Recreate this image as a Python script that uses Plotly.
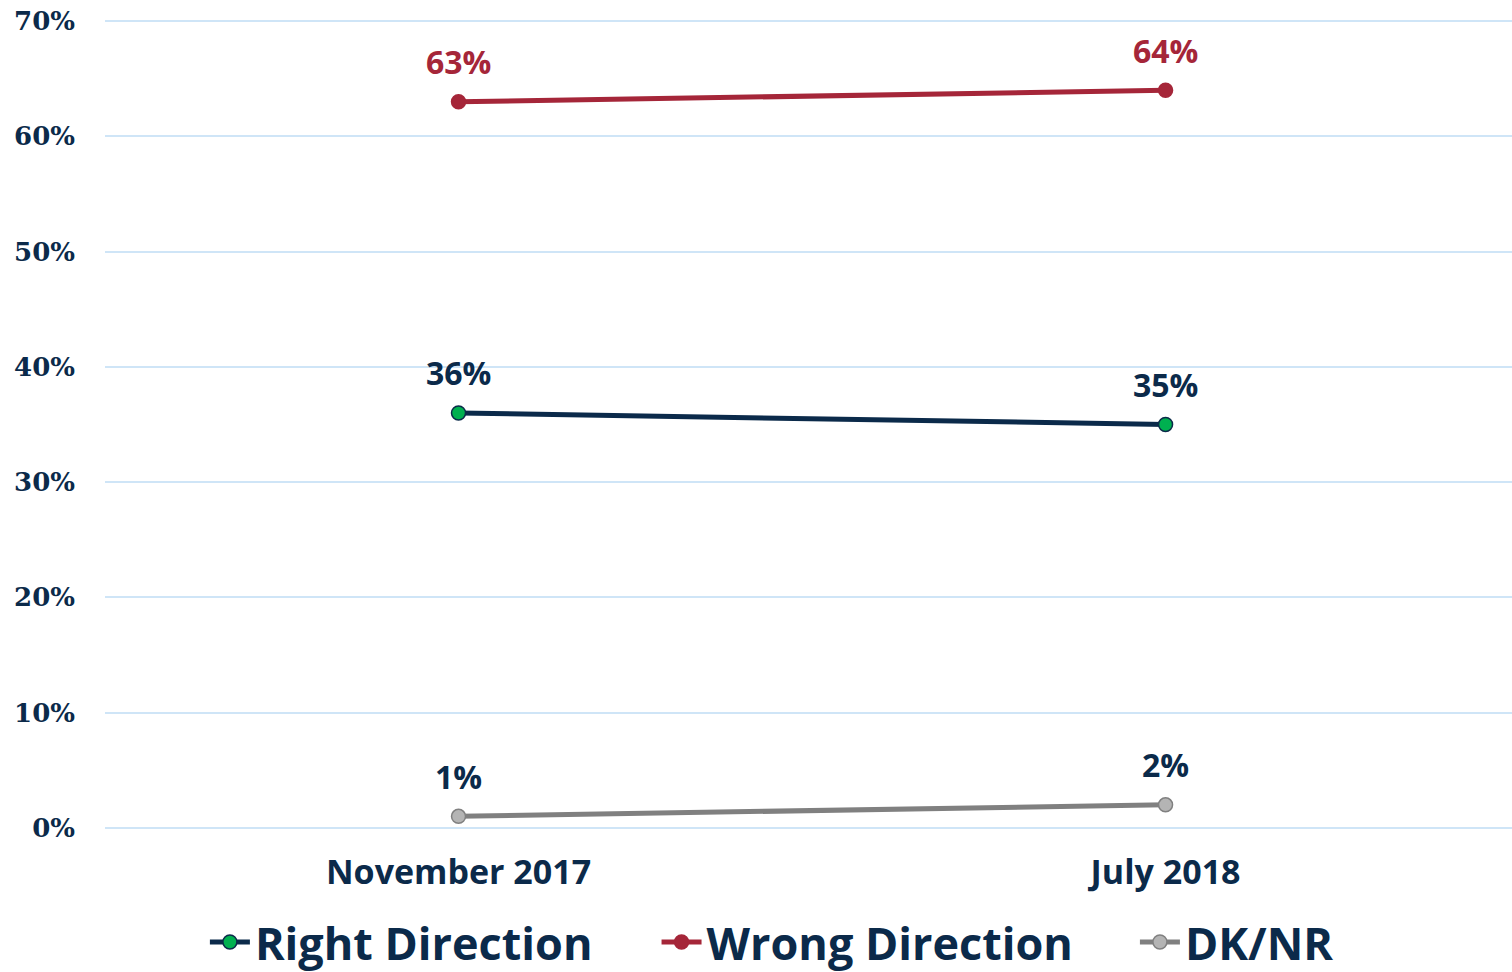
import plotly.graph_objects as go

categories = ["November 2017", "July 2018"]
right_direction = [36, 35]
wrong_direction = [63, 64]
dk_nr = [1, 2]
y_ticks = [0, 10, 20, 30, 40, 50, 60, 70]

navy = "#0b2a4a"
red = "#a52639"
gray = "#808080"

fig = go.Figure()

def add(name, vals, line_color, marker_color, marker_line, text_color, legend):
    fig.add_trace(go.Scatter(
        x=categories, y=vals, name=name, mode="lines+markers", legend=legend,
        line=dict(color=line_color, width=5),
        marker=dict(size=14, color=marker_color, line=dict(color=marker_line, width=1.5)),
        cliponaxis=False,
    ))
    for c, v in zip(categories, vals):
        fig.add_annotation(x=c, y=v, text=f"{v}%", showarrow=False, yshift=40,
                           yanchor="middle",
                           font=dict(family="Open Sans", size=32, color=text_color, weight="bold"))

add("Right Direction", right_direction, navy, "#00b050", navy, navy, "legend")
add("Wrong Direction", wrong_direction, red, red, red, red, "legend2")
add("DK/NR", dk_nr, gray, "#b4b4b4", gray, navy, "legend3")

legend_font = dict(family="Open Sans", size=45, color=navy, weight="bold")
def leg(x):
    return dict(orientation="h", x=x, xanchor="left", y=-0.14, yanchor="middle",
                font=legend_font, itemwidth=40, bgcolor="rgba(0,0,0,0)")

fig.update_layout(
    width=1512, height=972,
    margin=dict(l=105, r=0, t=20, b=143, autoexpand=False),
    plot_bgcolor="white", paper_bgcolor="white",
    showlegend=True,
    legend=leg(0.071), legend2=leg(0.392), legend3=leg(0.732),
)
fig.update_xaxes(type="category", range=[-0.5, 1.49], showgrid=False, showline=False,
                 ticks="", automargin=False, ticklabelstandoff=20,
                 tickfont=dict(family="Open Sans", size=34, color=navy, weight="bold"))
fig.update_yaxes(range=[-0.1, 70.1], tickvals=y_ticks, ticktext=[f"{v}%" for v in y_ticks],
                 showgrid=True, gridcolor="#cfe5f7", gridwidth=2, zeroline=False,
                 showline=False, ticks="", ticklabelstandoff=29, automargin=False,
                 tickfont=dict(family="DejaVu Serif", size=26, color=navy, weight="bold"))

fig.write_html("out.html", config={"displayModeBar": False},
               post_script="document.body.style.margin='0';document.body.style.overflow='hidden';")
